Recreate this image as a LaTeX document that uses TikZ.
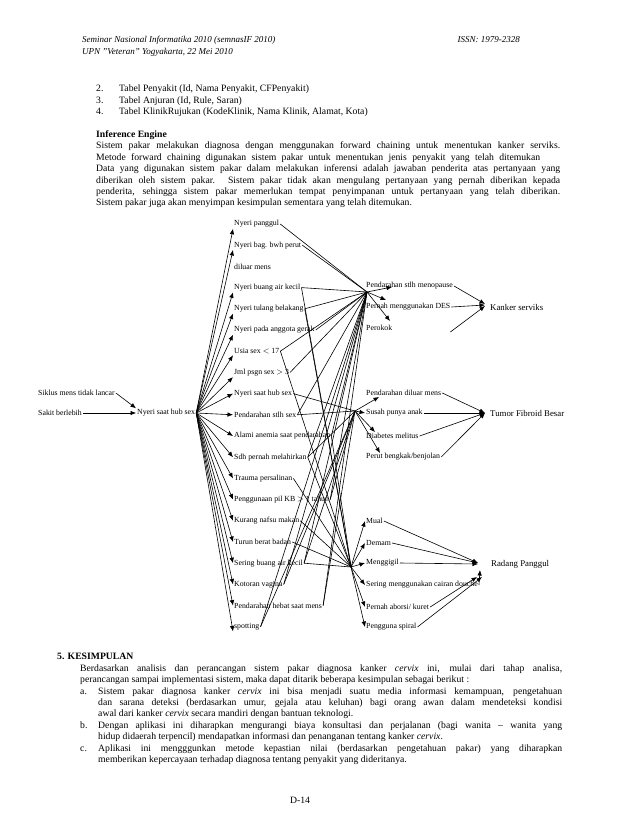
\documentclass[tikz,border=0pt]{standalone}
\usepackage{fontspec}
\setmainfont{Liberation Serif}
\usetikzlibrary{arrows.meta}

\begin{document}
\begin{tikzpicture}[x=1pt,y=-1pt,
  hdr/.style={font=\fontsize{9}{10.5}\selectfont\itshape,inner sep=0pt,anchor=base west},
  txt/.style={font=\fontsize{9.7}{11.4}\selectfont,inner sep=0pt,anchor=base west},
  bld/.style={txt,font=\fontsize{9.7}{11.4}\selectfont\bfseries},
  parag/.style={txt,align=justify,text width=#1},
  gj/.style={font=\fontsize{7.8}{9}\selectfont,anchor=west,inner sep=1pt},
  dx/.style={font=\fontsize{8.8}{10}\selectfont,anchor=west,inner sep=1pt},
  arr/.style={-{Latex[length=5.5pt,width=4.5pt]},line width=0.6pt},
  ln/.style={line width=0.6pt}]
\useasboundingbox (0,0) rectangle (638,826);
% header
\node[hdr] (sem) at (82,43) {Seminar Nasional Informatika 2010 (semnasIF 2010)};
\node[hdr] (upn) at (82,55) {UPN ''Veteran'' Yogyakarta, 22 Mei 2010};
\node[hdr,anchor=base east] (issn) at (520,43) {ISSN: 1979-2328};
% tabel
\node[txt] (n2) at (96,92)    {2.};
\node[txt] (t2) at (119,92)   {Tabel Penyakit (Id, Nama Penyakit, CFPenyakit)};
\node[txt] (n3) at (96,103.5) {3.};
\node[txt] (t3) at (119,103.5){Tabel Anjuran (Id, Rule, Saran)};
\node[txt] (n4) at (96,115)   {4.};
\node[txt] (t4) at (119,115)  {Tabel KlinikRujukan (KodeKlinik, Nama Klinik, Alamat, Kota)};
\node[bld] (ie) at (96,138) {Inference Engine};
\node[parag=464pt] (iep) at (96,149) {Sistem pakar melakukan diagnosa dengan menggunakan forward chaining untuk menentukan kanker serviks.\linebreak
\makebox[444pt][s]{Metode forward chaining digunakan sistem pakar untuk menentukan jenis penyakit yang telah ditemukan}\\
Data yang digunakan sistem pakar dalam melakukan inferensi adalah jawaban penderita atas pertanyaan yang\linebreak
diberikan oleh sistem pakar. Sistem pakar tidak akan mengulang pertanyaan yang pernah diberikan kepada\linebreak
penderita, sehingga sistem pakar memerlukan tempat penyimpanan untuk pertanyaan yang telah diberikan.\linebreak
Sistem pakar juga akan menyimpan kesimpulan sementara yang telah ditemukan.};
% left
\node[gj] (sml) at (37,393) {Siklus mens tidak lancar};
\node[gj] (skb) at (37,413) {Sakit berlebih};
\node[gj] (nsh) at (136,413) {Nyeri saat hub sex};
% gejala
\node[gj] (npg) at (233,224)   {Nyeri panggul};
\node[gj] (nbp) at (233,245.2) {Nyeri bag. bwh perut};
\node[gj] (dlm) at (233,266.4) {diluar mens};
\node[gj] (nbk) at (233,287.6) {Nyeri buang air kecil};
\node[gj] (ntb) at (233,308.8) {Nyeri tulang belakang};
\node[gj] (nag) at (233,330)   {Nyeri pada anggota gerak};
\node[gj] (usx) at (233,351.2) {Usia sex $<$ 17};
\node[gj] (jps) at (233,372.4) {Jml psgn sex $>$ 3};
\node[gj] (nhs) at (233,393.6) {Nyeri saat hub sex};
\node[gj] (pss) at (233,414.8) {Pendarahan stlh sex};
\node[gj] (aan) at (233,436)   {Alami anemia saat pendarahan};
\node[gj] (spm) at (233,457.2) {Sdh pernah melahirkan};
\node[gj] (tps) at (233,478.4) {Trauma persalinan};
\node[gj] (pkb) at (233,499.6) {Penggunaan pil KB $>$ 1 tahun};
\node[gj] (knm) at (233,520.8) {Kurang nafsu makan};
\node[gj] (tbb) at (233,542)   {Turun berat badan};
\node[gj] (sbk) at (233,563.2) {Sering buang air kecil};
\node[gj] (ktv) at (233,584.4) {Kotoran vagina};
\node[gj] (phm) at (233,605.6) {Pendarahan hebat saat mens};
\node[gj] (spt) at (233,626.8) {spotting};
% gejala kanker
\node[gj] (pmn) at (365,286) {Pendarahan stlh menopause};
\node[gj] (des) at (365,307) {Pernah menggunakan DES};
\node[gj] (prk) at (365,328) {Perokok};
% gejala tumor
\node[gj] (pdm) at (365,393) {Pendarahan diluar mens};
\node[gj] (spa) at (365,413) {Susah punya anak};
\node[gj] (dbm) at (365,436) {Diabetes melitus};
\node[gj] (pbb) at (365,457) {Perut bengkak/benjolan};
% gejala radang
\node[gj] (mul) at (365,521) {Mual};
\node[gj] (dmm) at (365,543) {Demam};
\node[gj] (mgg) at (365,563) {Menggigil};
\node[gj] (scd) at (365,585) {Sering menggunakan cairan douche};
\node[gj] (pak) at (365,607) {Pernah aborsi/ kuret};
\node[gj] (psp) at (365,627) {Pengguna spiral};
% penyakit
\node[dx] (ks) at (489,307) {Kanker serviks};
\node[dx] (tf) at (489,413) {Tumor Fibroid Besar};
\node[dx] (rp) at (490,564) {Radang Panggul};
\coordinate (h1) at (367,292);
\coordinate (h2) at (355,411);
\coordinate (h3) at (351,567);
% left arrows
\draw[arr] (sml.east) -- (nsh.north west);
\draw[arr] (skb.east) -- (nsh.west);
% fan
\draw[arr] (nsh.east) -- (npg.south west);
\draw[arr] (nsh.east) -- (nbp.south west);
\draw[arr] (nsh.east) -- (nbk.south west);
\draw[arr] (nsh.east) -- (ntb.south west);
\draw[arr] (nsh.east) -- (nag.south west);
\draw[arr] (nsh.east) -- (usx.south west);
\draw[arr] (nsh.east) -- (jps.south west);
\draw[arr] (nsh.east) -- (nhs.west);
\draw[arr] (nsh.east) -- (pss.west);
\draw[arr] (nsh.east) -- (aan.west);
\draw[arr] (nsh.east) -- (spm.west);
\draw[arr] (nsh.east) -- (tps.west);
\draw[arr] (nsh.east) -- (pkb.west);
\draw[arr] (nsh.east) -- (knm.west);
\draw[arr] (nsh.east) -- (tbb.west);
\draw[arr] (nsh.east) -- (sbk.west);
\draw[arr] (nsh.east) -- (ktv.west);
\draw[arr] (nsh.east) -- (phm.west);
\draw[arr] (nsh.east) -- (spt.south west);
% to kanker hub
\draw[ln] (npg.east) -- (h1);
\draw[ln] (nbp.east) -- (h1);
\draw[ln] (nbk.east) -- (h1);
\draw[ln] (ntb.east) -- (h1);
\draw[ln] (nag.east) -- (h1);
\draw[ln] (usx.east) -- (h1);
\draw[ln] (jps.east) -- (h1);
\draw[ln] (pss.east) -- (h1);
\draw[ln] (aan.east) -- (h1);
\draw[ln] (spm.east) -- (h1);
\draw[ln] (pkb.east) -- (h1);
\draw[ln] (sbk.east) -- (h1);
\draw[ln] (ktv.east) -- (h1);
\draw[ln] (phm.east) -- (h1);
\draw[ln] (spt.east) -- (h1);
% to tumor hub
\draw[ln] (nhs.east) -- (h2);
\draw[ln] (pss.east) -- (h2);
\draw[ln] (spm.east) -- (h2);
\draw[ln] (pkb.east) -- (h2);
\draw[ln] (sbk.east) -- (h2);
\draw[ln] (ktv.east) -- (h2);
\draw[ln] (phm.east) -- (h2);
\draw[ln] (spt.east) -- (h2);
% to radang hub
\draw[ln] (nbk.east) -- (h3);
\draw[ln] (ntb.east) -- (h3);
\draw[ln] (usx.east) -- (h3);
\draw[ln] (aan.east) -- (h3);
\draw[ln] (spm.east) -- (h3);
\draw[ln] (tps.east) -- (h3);
\draw[ln] (knm.east) -- (h3);
\draw[ln] (tbb.east) -- (h3);
\draw[ln] (sbk.east) -- (h3);
% hub out
\draw[arr] (h1) -- ([xshift=27pt,yshift=-1pt]pmn.west);
\draw[arr] (h1) -- ([xshift=21pt,yshift=7pt]des.west);
\draw[arr] (h1) -- ([xshift=25pt,yshift=7pt]prk.west);
\draw[arr] (h2) -- ([xshift=14pt,yshift=-4pt]pdm.west);
\draw[arr] (h2) -- (spa.west);
\draw[arr] (h2) -- ([xshift=10pt,yshift=4pt]dbm.west);
\draw[arr] (h2) -- ([xshift=15pt,yshift=4pt]pbb.west);
\draw[arr] (h3) -- (mul.west);
\draw[arr] (h3) -- (dmm.west);
\draw[arr] (h3) -- (mgg.west);
\draw[arr] (h3) -- (scd.west);
\draw[arr] (h3) -- (pak.west);
\draw[arr] (h3) -- (psp.west);
% to penyakit
\draw[arr] (pmn.east) -- ([xshift=-4pt,yshift=3pt]ks.west);
\draw[arr] (des.east) -- ([xshift=-4pt,yshift=2pt]ks.west);
\draw[arr] ([xshift=57pt,yshift=-4pt]prk.east) -- ([xshift=-4pt,yshift=1pt]ks.west);
\draw[arr] (pdm.east) -- ([xshift=-4pt]tf.west);
\draw[arr] (spa.east) -- ([xshift=-4pt]tf.west);
\draw[arr] (dbm.east) -- ([xshift=-4pt]tf.west);
\draw[arr] (pbb.east) -- ([xshift=-4pt]tf.west);
\draw[arr] (mul.east) -- ([xshift=-12pt,yshift=1pt]rp.west);
\draw[arr] (dmm.east) -- ([xshift=-12pt,yshift=1pt]rp.west);
\draw[arr] (mgg.east) -- ([xshift=-12pt]rp.west);
\draw[arr] (scd.east) -- ([xshift=-10pt,yshift=-6pt]rp.west);
\draw[arr] (pak.east) -- ([xshift=-13pt,yshift=-13pt]rp.west);
\draw[arr] (psp.east) -- ([xshift=-8pt,yshift=-13pt]rp.west);
% kesimpulan
\node[bld] (kes) at (57,659) {5. KESIMPULAN};
\node[parag=482pt] (kp) at (80,671) {Berdasarkan analisis dan perancangan sistem pakar diagnosa kanker \textit{cervix} ini, mulai dari tahap analisa,\linebreak
perancangan sampai implementasi sistem, maka dapat ditarik beberapa kesimpulan sebagai berikut :};
\node[txt] (la) at (80,694) {a.};
\node[parag=464pt] (ka) at (98,694) {Sistem pakar diagnosa kanker \textit{cervix} ini bisa menjadi suatu media informasi kemampuan, pengetahuan\linebreak
dan sarana deteksi (berdasarkan umur, gejala atau keluhan) bagi orang awan dalam mendeteksi kondisi\linebreak
awal dari kanker \textit{cervix} secara mandiri dengan bantuan teknologi.};
\node[txt] (lb) at (80,728.2) {b.};
\node[parag=464pt] (kb) at (98,728.2) {Dengan aplikasi ini diharapkan mengurangi biaya konsultasi dan perjalanan (bagi wanita -- wanita yang\linebreak
hidup didaerah terpencil) mendapatkan informasi dan penanganan tentang kanker \textit{cervix}.};
\node[txt] (lc) at (80,751) {c.};
\node[parag=464pt] (kc) at (98,751) {Aplikasi ini mengggunkan metode kepastian nilai (berdasarkan pengetahuan pakar) yang diharapkan\linebreak
memberikan kepercayaan terhadap diagnosa tentang penyakit yang dideritanya.};
\node[txt,anchor=base] (pg) at (300,803) {D-14};
\end{tikzpicture}
\end{document}
